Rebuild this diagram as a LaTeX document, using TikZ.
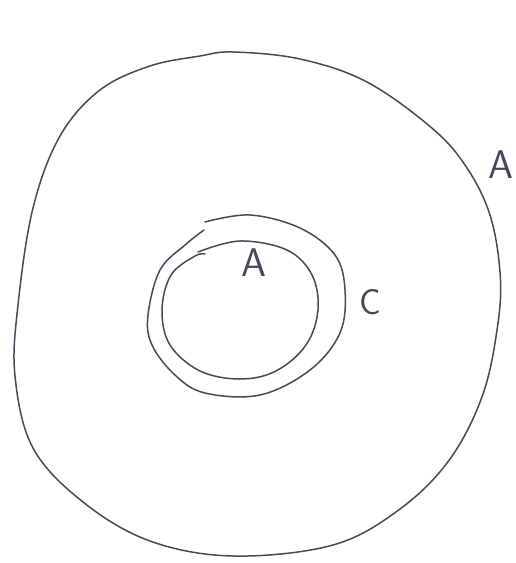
\documentclass[tikz,border=0pt]{standalone}
\usepackage[dvipsnames]{xcolor}
\usepackage{tikz}
\definecolor{penline}{HTML}{4C4659}

\begin{document}
\begin{tikzpicture}[x=1pt,y=-1pt,line width=1.5pt,line cap=round,line join=round]
  \useasboundingbox (0,0) rectangle (515,563);
  % outer region
  \draw[penline] plot[smooth cycle,tension=0.6] coordinates {
    (150,66) (200,56) (233,52) (300,59) (367,82) (433,129) (467,168)
    (490,215) (500,272) (498,323) (483,394) (450,459) (400,509)
    (333,545) (233,556) (150,541) (83,502) (33,448) (15,376)
    (18,305) (33,208) (60,136) (100,90)};
  % ring C
  \draw[penline] plot[smooth,tension=0.6] coordinates {
    (205,222) (250,215) (300,228) (335,255) (345,290) (340,333)
    (310,370) (260,395) (205,393) (175,375) (152,345) (148,315)
    (160,270) (185,245) (204,230)};
  % inner disc A
  \draw[penline] plot[smooth,tension=0.6] coordinates {
    (198,252) (240,241) (287,250) (312,275) (318,310) (306,345)
    (276,371) (240,379) (200,371) (170,345) (162,310) (171,275)
    (195,256) (205,254)};
  % labels
  \node[penline,font=\fontsize{40}{44}\sffamily] (innerA) at (254,263) {A};
  \node[penline,font=\fontsize{36}{40}\sffamily] (ringC) at (370,302) {C};
  \node[penline,font=\fontsize{40}{44}\sffamily,anchor=west,inner sep=0pt] (outerA) at (488,165) {A};
\end{tikzpicture}
\end{document}
